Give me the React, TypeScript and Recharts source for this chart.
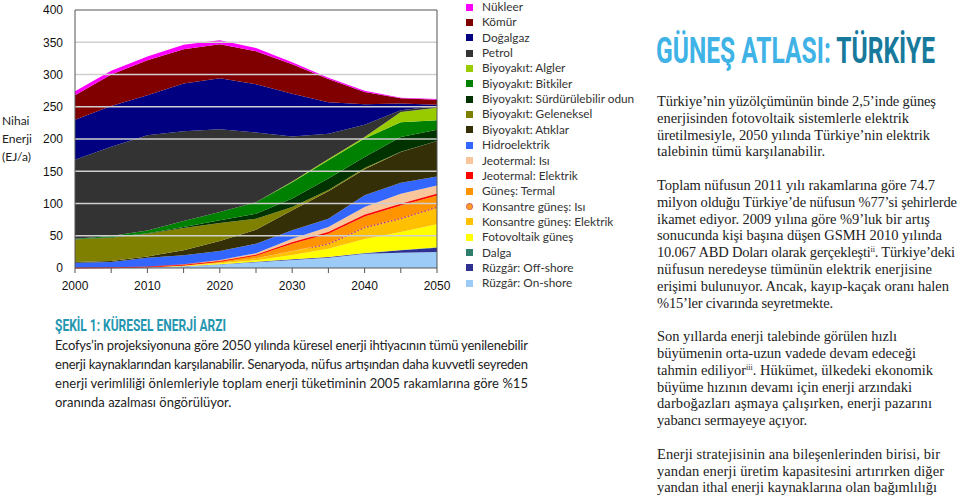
import React from 'react';
import { AreaChart, Area, XAxis, YAxis, ReferenceLine } from 'recharts';

// Nihai enerji arzı (EJ/a), 5 yıllık adımlarla
const years = [2000, 2005, 2010, 2015, 2020, 2025, 2030, 2035, 2040, 2045, 2050];
const xTickYears = [2000, 2005, 2010, 2015, 2020, 2025, 2030, 2035, 2040, 2045, 2050];
const xLabelYears = [2000, 2010, 2020, 2030, 2040, 2050];
const yTicks = [0, 50, 100, 150, 200, 250, 300, 350, 400];
const gridValues = [50, 100, 150, 200, 250, 300, 350];

const onshore = [0.5, 0.8, 1.2, 2.5, 5.5, 9, 12.5, 16, 22, 23.5, 25];
const offshore = [0, 0, 0, 0.1, 0.3, 0.5, 1, 1, 1, 4, 6.5];
const dalga = [0, 0, 0, 0, 0, 0, 0, 0.2, 0.3, 0.5, 0.5];
const fotovoltaik = [0, 0, 0.3, 0.8, 1.7, 2.5, 6.5, 12.8, 21.7, 28, 36];
const konsElektrik = [0, 0, 0.1, 0.4, 1, 3, 6, 7, 17, 20, 25];
const konsIsi = [0, 0, 0, 0, 0, 0, 0.5, 1, 1.5, 1.5, 2];
const termal = [0, 0, 0.2, 1, 1.8, 4.5, 11, 15, 16.5, 19.5, 17.5];
const jeoElektrik = [0, 0, 0.1, 0.2, 0.5, 1, 2.5, 3, 2.5, 2.5, 2.5];
const jeoIsi = [0.1, 0.2, 0.3, 0.7, 1.6, 2.5, 5.5, 7.6, 12.1, 15.5, 13];
const hidro = [7.7, 8.3, 13.8, 13.9, 14, 14.7, 12.9, 12.9, 18.1, 17, 14];
const atiklar = [1, 1.7, 2, 7.8, 15.5, 21.7, 31.1, 42.5, 40.3, 48, 55];
const geleneksel = [34.7, 36, 35, 34.6, 27.9, 17.1, 5.1, 2, 2, 0.3, 0];
const odun = [0.5, 0.5, 1, 1.6, 4.1, 7.5, 13, 17.6, 17, 22.7, 17.5];
const bitkiler = [1, 2.1, 4, 9.3, 12.9, 18, 25.4, 28.4, 28.6, 23, 14.5];
const algler = [0, 0, 0, 0, 0, 0, 1, 2, 2.4, 16, 19.5];
const petrol = [122.5, 138.4, 148, 139.1, 128.2, 108, 70, 39, 19, 2.5, 2.5];
const dogalgaz = [62, 63, 62, 74, 79, 75, 66, 49, 32, 10.5, 2];
const komur = [38, 49, 54, 53, 53, 51, 46, 36, 19, 8, 8];
const nukleer = [6, 6, 6, 7, 6, 5, 3, 2, 2, 1, 1];

// bottom of stack first
const series = [
  { key: 'onshore', name: 'Rüzgâr: On-shore', color: '#9dcbf7', values: onshore },
  { key: 'offshore', name: 'Rüzgâr: Off-shore', color: '#2e3192', values: offshore },
  { key: 'dalga', name: 'Dalga', color: '#2f7d6d', values: dalga },
  { key: 'pv', name: 'Fotovoltaik güneş', color: '#ffff00', values: fotovoltaik },
  { key: 'konsEl', name: 'Konsantre güneş: Elektrik', color: '#ffc000', values: konsElektrik },
  { key: 'konsIsi', name: 'Konsantre güneş: Isı', color: '#ffa800', values: konsIsi },
  { key: 'termal', name: 'Güneş: Termal', color: '#ff9300', values: termal },
  { key: 'jeoEl', name: 'Jeotermal: Elektrik', color: '#ff0000', values: jeoElektrik },
  { key: 'jeoIsi', name: 'Jeotermal: Isı', color: '#f9c59b', values: jeoIsi },
  { key: 'hidro', name: 'Hidroelektrik', color: '#3366ff', values: hidro },
  { key: 'atiklar', name: 'Biyoyakıt: Atıklar', color: '#352f08', values: atiklar },
  { key: 'geleneksel', name: 'Biyoyakıt: Geleneksel', color: '#808000', values: geleneksel },
  { key: 'odun', name: 'Biyoyakıt: Sürdürülebilir odun', color: '#003300', values: odun },
  { key: 'bitkiler', name: 'Biyoyakıt: Bitkiler', color: '#008000', values: bitkiler },
  { key: 'algler', name: 'Biyoyakıt: Algler', color: '#99cc00', values: algler },
  { key: 'petrol', name: 'Petrol', color: '#333333', values: petrol },
  { key: 'dogalgaz', name: 'Doğalgaz', color: '#000080', values: dogalgaz },
  { key: 'komur', name: 'Kömür', color: '#800000', values: komur },
  { key: 'nukleer', name: 'Nükleer', color: '#ff00ff', values: nukleer },
];

const chartData = years.map((year, i) => {
  const row: Record<string, number> = { year };
  series.forEach((s) => {
    row[s.key] = s.values[i];
  });
  return row;
});

const sans = 'Lato, "Noto Sans", sans-serif';
const serif = '"Liberation Serif", "DejaVu Serif", serif';

// right column: [text, width in px] ; '' = blank line ; |x| = superscript
const rightLines: [string, number][] = [
  ['Türkiye’nin yüzölçümünün binde 2,5’inde güneş', 279],
  ['enerjisinden fotovoltaik sistemlerle elektrik', 252],
  ['üretilmesiyle, 2050 yılında Türkiye’nin elektrik', 273],
  ['talebinin tümü karşılanabilir.', 168],
  ['', 0],
  ['Toplam nüfusun 2011 yılı rakamlarına göre 74.7', 278],
  ['milyon olduğu Türkiye’de nüfusun %77’si şehirlerde', 300],
  ['ikamet ediyor. 2009 yılına göre %9’luk bir artış', 273],
  ['sonucunda kişi başına düşen GSMH 2010 yılında', 285],
  ['10.067 ABD Doları olarak gerçekleşti|ii|. Türkiye’deki', 298],
  ['nüfusun neredeyse tümünün elektrik enerjisine', 275],
  ['erişimi bulunuyor. Ancak, kayıp-kaçak oranı halen', 292],
  ['%15’ler civarında seyretmekte.', 176],
  ['', 0],
  ['Son yıllarda enerji talebinde görülen hızlı', 240],
  ['büyümenin orta-uzun vadede devam edeceği', 259],
  ['tahmin ediliyor|iii|. Hükümet, ülkedeki ekonomik', 276],
  ['büyüme hızının devamı için enerji arzındaki', 255],
  ['darboğazları aşmaya çalışırken, enerji pazarını', 275],
  ['yabancı sermayeye açıyor.', 150],
  ['', 0],
  ['Enerji stratejisinin ana bileşenlerinden birisi, bir', 283],
  ['yandan enerji üretim kapasitesini artırırken diğer', 287],
  ['yandan ithal enerji kaynaklarına olan bağımlılığı', 280],
];

const captionLines = [
  'Ecofys’in projeksiyonuna göre 2050 yılında küresel enerji ihtiyacının tümü yenilenebilir',
  'enerji kaynaklarından karşılanabilir. Senaryoda, nüfus artışından daha kuvvetli seyreden',
  'enerji verimliliği önlemleriyle toplam enerji tüketiminin 2005 rakamlarına göre %15',
  'oranında azalması öngörülüyor.',
];

function lineParts(line: string) {
  const parts = line.split('|');
  return parts.map((p, i) =>
    i % 2 === 1 ? (
      <tspan key={i} fontSize={8} dy={-5}>
        {p}
      </tspan>
    ) : (
      <tspan key={i} dy={i > 0 ? 5 : 0}>
        {p}
      </tspan>
    )
  );
}

function XTick(props: any) {
  const { x, y, payload } = props;
  if (!xLabelYears.includes(payload.value)) return null;
  return (
    <text x={x} y={y} dy="0.71em" textAnchor="middle" fill="#111" fontSize={12} fontFamily='"Liberation Sans", Arial, sans-serif'>
      {payload.value}
    </text>
  );
}

function LegendIcon({ s }: { s: (typeof series)[number] }) {
  if (s.key === 'konsIsi') {
    return (
      <div
        style={{
          position: 'absolute',
          left: 0,
          top: 0,
          width: 7,
          height: 7,
          borderRadius: '50%',
          background: '#ff9a20',
          border: '1.5px dotted #b03fa0',
          boxSizing: 'border-box',
        }}
      />
    );
  }
  return <div style={{ position: 'absolute', left: 0, top: 0, width: 7, height: 7, background: s.color }} />;
}

export default function App() {
  const legendItems = [...series].reverse();
  return (
    <div
      style={{
        position: 'absolute',
        left: 0,
        top: 0,
        width: 959,
        height: 496,
        background: '#fff',
        overflow: 'hidden',
      }}
    >
      {/* axis title */}
      <div
        style={{
          position: 'absolute',
          left: 2,
          top: 112,
          fontFamily: sans,
          fontSize: 12,
          lineHeight: '18px',
          color: '#222',
        }}
      >
        <div>Nihai</div>
        <div>Enerji</div>
        <div>(EJ/a)</div>
      </div>

      <div style={{ position: 'absolute', left: 0, top: 0 }}>
        <AreaChart width={460} height={300} data={chartData} margin={{ top: 10, right: 23, bottom: 2, left: 0 }}>
          <defs>
            <linearGradient id="konsIsiStroke" x1="0" y1="0" x2="1" y2="0">
              <stop offset="0" stopColor="#b0359a" stopOpacity={0} />
              <stop offset="0.64" stopColor="#b0359a" stopOpacity={0} />
              <stop offset="0.66" stopColor="#b0359a" stopOpacity={1} />
              <stop offset="1" stopColor="#b0359a" stopOpacity={1} />
            </linearGradient>
          </defs>
          <XAxis
            dataKey="year"
            type="number"
            domain={[2000, 2050]}
            ticks={xTickYears}
            interval={0}
            tick={<XTick />}
            tickSize={5}
            tickMargin={8}
            height={30}
            stroke="#555"
          />
          <YAxis
            type="number"
            domain={[0, 400]}
            ticks={yTicks}
            interval={0}
            width={75}
            tickLine={false}
            tickMargin={6}
            stroke="#555"
            tick={{ fill: '#111', fontSize: 12, fontFamily: '"Liberation Sans", Arial, sans-serif' }}
          />
          {series.map((s) => (
            <Area
              key={s.key}
              dataKey={s.key}
              name={s.name}
              type="linear"
              stackId="1"
              fill={s.color}
              fillOpacity={1}
              stroke={s.key === 'jeoEl' ? '#ff0000' : s.key === 'konsIsi' ? 'url(#konsIsiStroke)' : 'none'}
              strokeWidth={s.key === 'konsIsi' ? 2.5 : 1.5}
              strokeDasharray={s.key === 'konsIsi' ? '1.5 2' : undefined}
              dot={false}
              activeDot={false}
              isAnimationActive={false}
            />
          ))}
          {gridValues.map((v) => (
            <ReferenceLine key={v} y={v} stroke="#cfcfcf" strokeWidth={1.5} />
          ))}
          <ReferenceLine y={400} stroke="#555" strokeWidth={1} />
          <ReferenceLine x={2050} stroke="#555" strokeWidth={1} />
        </AreaChart>
      </div>

      {/* legend */}
      {legendItems.map((s, i) => (
        <div
          key={s.key}
          style={{
            position: 'absolute',
            left: 466,
            top: i * 15.35,
            height: 14,
            width: 180,
            fontFamily: sans,
            fontSize: 11.8,
            lineHeight: '14px',
            color: '#333',
          }}
        >
          <div style={{ position: 'absolute', left: 0, top: 3.5, width: 7, height: 7 }}>
            <LegendIcon s={s} />
          </div>
          <div style={{ position: 'absolute', left: 16, top: 0, whiteSpace: 'nowrap' }}>{s.name}</div>
        </div>
      ))}

      {/* figure caption */}
      <div
        style={{
          position: 'absolute',
          left: 55,
          top: 317,
          fontFamily: 'Roboto, sans-serif',
          fontWeight: 700,
          fontSize: 16,
          lineHeight: '18px',
          color: '#2596b0',
          whiteSpace: 'nowrap',
          transform: 'scaleX(0.75)',
          transformOrigin: 'left top',
        }}
      >
        ŞEKİL 1: KÜRESEL ENERJİ ARZI
      </div>
      <svg width={959} height={496} style={{ position: 'absolute', left: 0, top: 0, pointerEvents: 'none' }}>
        {captionLines.map((l, i) => (
          <text
            key={i}
            x={55}
            y={349.5 + i * 19}
            fontFamily={sans}
            fontSize={13}
            fill="#222"
            textLength={i < captionLines.length - 1 ? 473 : undefined}
            lengthAdjust="spacing"
          >
            {l}
          </text>
        ))}
        {rightLines.map(([l, w], i) =>
          l ? (
            <text
              key={i}
              x={657}
              y={106 + i * 16.8}
              fontFamily={serif}
              fontSize={14.5}
              fill="#222"
              textLength={w}
              lengthAdjust="spacing"
            >
              {lineParts(l)}
            </text>
          ) : null
        )}
      </svg>

      {/* right column title */}
      <div
        style={{
          position: 'absolute',
          left: 656,
          top: 28,
          fontFamily: 'Roboto, sans-serif',
          fontWeight: 700,
          fontSize: 37,
          lineHeight: '46px',
          whiteSpace: 'nowrap',
          transform: 'scaleX(0.664)',
          transformOrigin: 'left top',
        }}
      >
        <span style={{ color: '#3fb3e6' }}>GÜNEŞ ATLASI: </span>
        <span style={{ color: '#17799b' }}>TÜRKİYE</span>
      </div>
    </div>
  );
}
